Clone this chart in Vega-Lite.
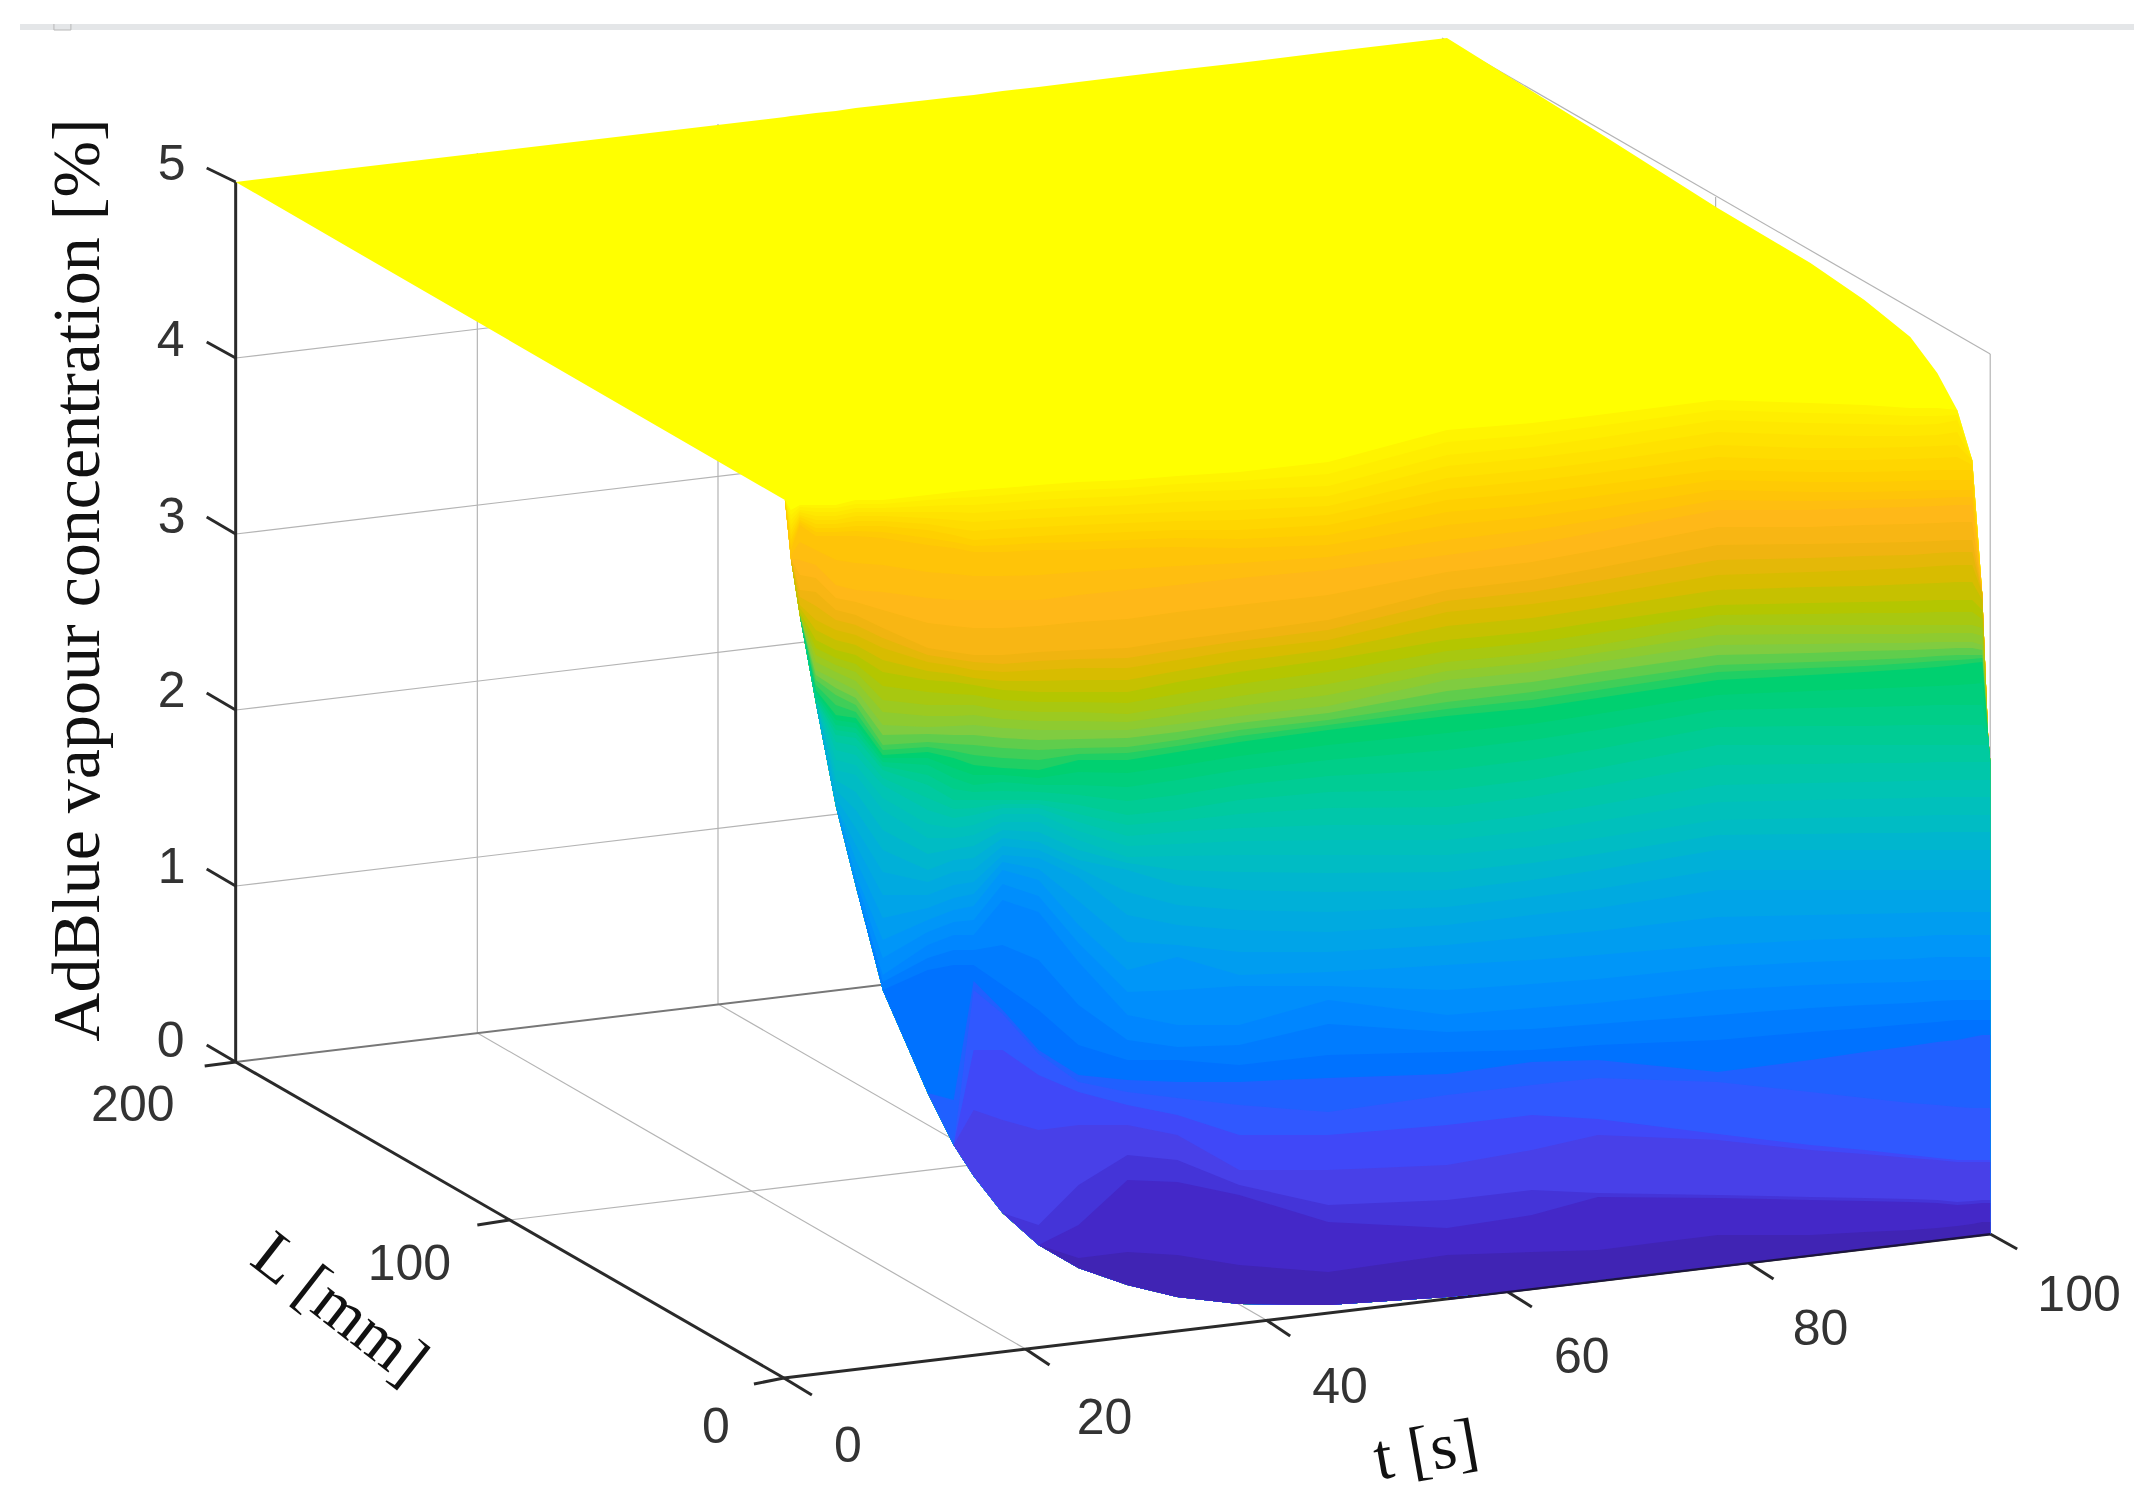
{
"$schema":"https://vega.github.io/schema/vega-lite/v6.json",
"width":2146,"height":1507,"padding":0,
"autosize":{"type":"fit","contains":"padding"},
"background":"white",
"config":{"view":{"stroke":null}},
"datasets":{
"surface":[
{"sx":236,"bottom":182,"c01":182,"c02":182,"c03":182,"c04":182,"c05":182,"c06":182,"c07":182,"c08":182,"c09":182,"c10":182,"c11":182,"c12":182,"c13":182,"c14":182,"c15":182,"c16":182,"c17":182,"c18":182,"c19":182,"c20":182,"c21":182,"c22":182,"c23":182,"c24":182,"c25":182,"c26":182,"c27":182,"c28":182,"c29":182,"c30":182,"c31":182,"c32":182,"c33":182,"c34":182,"c35":182,"c36":182,"c37":182,"c38":182,"c39":182,"c40":182,"c41":182,"c42":182,"c43":182,"c44":182,"c45":182,"c46":182,"c47":182,"c48":182,"c49":182,"c50":182,"c51":182},
{"sx":786,"bottom":500,"c01":117,"c02":500,"c03":500,"c04":500,"c05":500,"c06":500,"c07":500,"c08":500,"c09":500,"c10":500,"c11":500,"c12":500,"c13":500,"c14":500,"c15":500,"c16":500,"c17":500,"c18":500,"c19":500,"c20":500,"c21":500,"c22":500,"c23":500,"c24":500,"c25":500,"c26":500,"c27":500,"c28":500,"c29":500,"c30":500,"c31":500,"c32":500,"c33":500,"c34":500,"c35":500,"c36":500,"c37":500,"c38":500,"c39":500,"c40":500,"c41":500,"c42":500,"c43":500,"c44":500,"c45":500,"c46":500,"c47":500,"c48":500,"c49":500,"c50":500,"c51":500},
{"sx":792,"bottom":559,"c01":116,"c02":510,"c03":515,"c04":520,"c05":525,"c06":530,"c07":535,"c08":540,"c09":545,"c10":550,"c11":555,"c12":559,"c13":559,"c14":559,"c15":559,"c16":559,"c17":559,"c18":559,"c19":559,"c20":559,"c21":559,"c22":559,"c23":559,"c24":559,"c25":559,"c26":559,"c27":559,"c28":559,"c29":559,"c30":559,"c31":559,"c32":559,"c33":559,"c34":559,"c35":559,"c36":559,"c37":559,"c38":559,"c39":559,"c40":559,"c41":559,"c42":559,"c43":559,"c44":559,"c45":559,"c46":559,"c47":559,"c48":559,"c49":559,"c50":559,"c51":559},
{"sx":801,"bottom":616,"c01":115,"c02":505,"c03":507,"c04":510,"c05":512,"c06":515,"c07":517,"c08":520,"c09":522,"c10":525,"c11":542,"c12":560,"c13":575,"c14":590,"c15":597,"c16":605,"c17":608,"c18":612,"c19":614,"c20":616,"c21":616,"c22":616,"c23":616,"c24":616,"c25":616,"c26":616,"c27":616,"c28":616,"c29":616,"c30":616,"c31":616,"c32":616,"c33":616,"c34":616,"c35":616,"c36":616,"c37":616,"c38":616,"c39":616,"c40":616,"c41":616,"c42":616,"c43":616,"c44":616,"c45":616,"c46":616,"c47":616,"c48":616,"c49":616,"c50":616,"c51":616},
{"sx":817,"bottom":703,"c01":113,"c02":505,"c03":508,"c04":512,"c05":516,"c06":520,"c07":524,"c08":528,"c09":532,"c10":536,"c11":550,"c12":565,"c13":578,"c14":592,"c15":606,"c16":620,"c17":630,"c18":640,"c19":648,"c20":655,"c21":662,"c22":670,"c23":675,"c24":680,"c25":685,"c26":690,"c27":692,"c28":695,"c29":698,"c30":700,"c31":702,"c32":703,"c33":703,"c34":703,"c35":703,"c36":703,"c37":703,"c38":703,"c39":703,"c40":703,"c41":703,"c42":703,"c43":703,"c44":703,"c45":703,"c46":703,"c47":703,"c48":703,"c49":703,"c50":703,"c51":703},
{"sx":837,"bottom":806,"c01":111,"c02":505,"c03":508,"c04":512,"c05":516,"c06":520,"c07":524,"c08":528,"c09":532,"c10":536,"c11":560,"c12":585,"c13":598,"c14":610,"c15":620,"c16":630,"c17":640,"c18":650,"c19":658,"c20":665,"c21":672,"c22":680,"c23":688,"c24":695,"c25":705,"c26":715,"c27":720,"c28":725,"c29":730,"c30":735,"c31":742,"c32":750,"c33":760,"c34":770,"c35":780,"c36":790,"c37":798,"c38":806,"c39":806,"c40":806,"c41":806,"c42":806,"c43":806,"c44":806,"c45":806,"c46":806,"c47":806,"c48":806,"c49":806,"c50":806,"c51":806},
{"sx":857,"bottom":886,"c01":108,"c02":500,"c03":504,"c04":508,"c05":512,"c06":516,"c07":521,"c08":526,"c09":531,"c10":536,"c11":563,"c12":590,"c13":602,"c14":615,"c15":625,"c16":635,"c17":645,"c18":655,"c19":664,"c20":672,"c21":681,"c22":690,"c23":698,"c24":705,"c25":712,"c26":718,"c27":723,"c28":728,"c29":733,"c30":738,"c31":746,"c32":755,"c33":765,"c34":775,"c35":792,"c36":810,"c37":828,"c38":845,"c39":860,"c40":875,"c41":880,"c42":886,"c43":886,"c44":886,"c45":886,"c46":886,"c47":886,"c48":886,"c49":886,"c50":886,"c51":886},
{"sx":884,"bottom":990,"c01":105,"c02":500,"c03":504,"c04":508,"c05":512,"c06":516,"c07":521,"c08":526,"c09":532,"c10":538,"c11":565,"c12":592,"c13":610,"c14":628,"c15":638,"c16":648,"c17":660,"c18":672,"c19":686,"c20":700,"c21":712,"c22":725,"c23":735,"c24":745,"c25":750,"c26":755,"c27":758,"c28":762,"c29":766,"c30":770,"c31":778,"c32":785,"c33":798,"c34":810,"c35":830,"c36":850,"c37":872,"c38":895,"c39":918,"c40":940,"c41":958,"c42":975,"c43":982,"c44":990,"c45":990,"c46":990,"c47":990,"c48":990,"c49":990,"c50":990,"c51":990},
{"sx":929,"bottom":1093,"c01":100,"c02":495,"c03":500,"c04":506,"c05":512,"c06":518,"c07":524,"c08":530,"c09":538,"c10":545,"c11":572,"c12":598,"c13":623,"c14":648,"c15":655,"c16":662,"c17":671,"c18":680,"c19":692,"c20":705,"c21":716,"c22":727,"c23":734,"c24":742,"c25":747,"c26":752,"c27":758,"c28":765,"c29":775,"c30":785,"c31":798,"c32":810,"c33":824,"c34":838,"c35":854,"c36":870,"c37":882,"c38":895,"c39":908,"c40":920,"c41":932,"c42":945,"c43":958,"c44":970,"c45":1093,"c46":1093,"c47":1093,"c48":1093,"c49":1093,"c50":1093,"c51":1093},
{"sx":955,"bottom":1145,"c01":97,"c02":492,"c03":498,"c04":505,"c05":512,"c06":520,"c07":528,"c08":535,"c09":542,"c10":548,"c11":574,"c12":600,"c13":626,"c14":652,"c15":659,"c16":666,"c17":674,"c18":682,"c19":694,"c20":705,"c21":716,"c22":726,"c23":735,"c24":744,"c25":751,"c26":758,"c27":768,"c28":778,"c29":789,"c30":800,"c31":809,"c32":818,"c33":828,"c34":838,"c35":849,"c36":860,"c37":872,"c38":885,"c39":898,"c40":910,"c41":922,"c42":935,"c43":950,"c44":965,"c45":1100,"c46":1145,"c47":1145,"c48":1145,"c49":1145,"c50":1145,"c51":1145},
{"sx":975,"bottom":1176,"c01":95,"c02":490,"c03":497,"c04":505,"c05":513,"c06":522,"c07":531,"c08":540,"c09":546,"c10":552,"c11":576,"c12":600,"c13":628,"c14":655,"c15":662,"c16":670,"c17":678,"c18":685,"c19":695,"c20":705,"c21":715,"c22":725,"c23":735,"c24":745,"c25":755,"c26":765,"c27":775,"c28":785,"c29":792,"c30":800,"c31":808,"c32":815,"c33":825,"c34":835,"c35":846,"c36":858,"c37":870,"c38":882,"c39":894,"c40":906,"c41":920,"c42":935,"c43":950,"c44":965,"c45":981,"c46":990,"c47":1050,"c48":1110,"c49":1176,"c50":1176,"c51":1176},
{"sx":1004,"bottom":1213,"c01":91,"c02":488,"c03":495,"c04":503,"c05":511,"c06":520,"c07":529,"c08":538,"c09":545,"c10":552,"c11":576,"c12":600,"c13":628,"c14":655,"c15":664,"c16":672,"c17":681,"c18":690,"c19":700,"c20":710,"c21":719,"c22":728,"c23":738,"c24":748,"c25":758,"c26":768,"c27":775,"c28":782,"c29":791,"c30":800,"c31":804,"c32":808,"c33":814,"c34":822,"c35":830,"c36":838,"c37":846,"c38":855,"c39":862,"c40":870,"c41":884,"c42":900,"c43":945,"c44":985,"c45":1010,"c46":1014,"c47":1050,"c48":1120,"c49":1213,"c50":1213,"c51":1213},
{"sx":1040,"bottom":1245,"c01":87,"c02":485,"c03":492,"c04":500,"c05":509,"c06":518,"c07":527,"c08":536,"c09":543,"c10":550,"c11":575,"c12":600,"c13":626,"c14":652,"c15":661,"c16":670,"c17":681,"c18":692,"c19":702,"c20":712,"c21":721,"c22":730,"c23":740,"c24":750,"c25":760,"c26":770,"c27":778,"c28":785,"c29":792,"c30":800,"c31":804,"c32":808,"c33":814,"c34":822,"c35":832,"c36":842,"c37":850,"c38":858,"c39":869,"c40":880,"c41":896,"c42":912,"c43":960,"c44":1010,"c45":1050,"c46":1054,"c47":1075,"c48":1130,"c49":1225,"c50":1245,"c51":1245},
{"sx":1080,"bottom":1268,"c01":82,"c02":482,"c03":490,"c04":498,"c05":507,"c06":516,"c07":525,"c08":534,"c09":542,"c10":550,"c11":572,"c12":595,"c13":622,"c14":650,"c15":659,"c16":668,"c17":680,"c18":692,"c19":702,"c20":712,"c21":721,"c22":730,"c23":739,"c24":748,"c25":754,"c26":760,"c27":772,"c28":785,"c29":795,"c30":805,"c31":814,"c32":822,"c33":831,"c34":840,"c35":850,"c36":860,"c37":868,"c38":877,"c39":901,"c40":925,"c41":943,"c42":962,"c43":1005,"c44":1045,"c45":1075,"c46":1082,"c47":1092,"c48":1125,"c49":1185,"c50":1225,"c51":1258},
{"sx":1129,"bottom":1285,"c01":76,"c02":480,"c03":488,"c04":496,"c05":505,"c06":514,"c07":523,"c08":532,"c09":540,"c10":548,"c11":569,"c12":590,"c13":619,"c14":648,"c15":658,"c16":668,"c17":680,"c18":692,"c19":703,"c20":714,"c21":722,"c22":730,"c23":738,"c24":747,"c25":753,"c26":760,"c27":773,"c28":787,"c29":801,"c30":815,"c31":825,"c32":836,"c33":846,"c34":857,"c35":863,"c36":870,"c37":892,"c38":915,"c39":942,"c40":970,"c41":992,"c42":1015,"c43":1040,"c44":1060,"c45":1080,"c46":1092,"c47":1105,"c48":1125,"c49":1155,"c50":1180,"c51":1252},
{"sx":1179,"bottom":1297,"c01":70,"c02":476,"c03":484,"c04":492,"c05":502,"c06":512,"c07":521,"c08":530,"c09":538,"c10":547,"c11":566,"c12":585,"c13":612,"c14":640,"c15":650,"c16":660,"c17":671,"c18":682,"c19":694,"c20":706,"c21":715,"c22":724,"c23":732,"c24":740,"c25":746,"c26":752,"c27":766,"c28":780,"c29":795,"c30":810,"c31":821,"c32":832,"c33":844,"c34":856,"c35":870,"c36":885,"c37":905,"c38":925,"c39":945,"c40":957,"c41":990,"c42":1025,"c43":1047,"c44":1060,"c45":1082,"c46":1098,"c47":1115,"c48":1135,"c49":1160,"c50":1182,"c51":1255},
{"sx":1241,"bottom":1304,"c01":63,"c02":472,"c03":481,"c04":490,"c05":500,"c06":510,"c07":520,"c08":530,"c09":539,"c10":548,"c11":563,"c12":578,"c13":605,"c14":632,"c15":641,"c16":650,"c17":661,"c18":672,"c19":684,"c20":696,"c21":706,"c22":716,"c23":723,"c24":730,"c25":736,"c26":742,"c27":756,"c28":770,"c29":785,"c30":800,"c31":814,"c32":828,"c33":841,"c34":855,"c35":872,"c36":890,"c37":910,"c38":930,"c39":952,"c40":975,"c41":986,"c42":1025,"c43":1045,"c44":1065,"c45":1082,"c46":1105,"c47":1135,"c48":1170,"c49":1185,"c50":1195,"c51":1265},
{"sx":1330,"bottom":1305,"c01":52,"c02":462,"c03":474,"c04":486,"c05":496,"c06":506,"c07":515,"c08":525,"c09":535,"c10":545,"c11":557,"c12":570,"c13":595,"c14":620,"c15":630,"c16":640,"c17":650,"c18":660,"c19":672,"c20":684,"c21":695,"c22":706,"c23":713,"c24":720,"c25":725,"c26":730,"c27":745,"c28":760,"c29":776,"c30":792,"c31":808,"c32":825,"c33":840,"c34":855,"c35":873,"c36":892,"c37":912,"c38":932,"c39":952,"c40":972,"c41":986,"c42":1000,"c43":1024,"c44":1055,"c45":1078,"c46":1112,"c47":1135,"c48":1170,"c49":1205,"c50":1222,"c51":1272},
{"sx":1449,"bottom":1297,"c01":38,"c02":430,"c03":442,"c04":455,"c05":466,"c06":478,"c07":489,"c08":500,"c09":512,"c10":525,"c11":540,"c12":555,"c13":572,"c14":590,"c15":601,"c16":612,"c17":626,"c18":640,"c19":651,"c20":662,"c21":671,"c22":680,"c23":691,"c24":702,"c25":709,"c26":716,"c27":733,"c28":750,"c29":770,"c30":790,"c31":807,"c32":825,"c33":840,"c34":855,"c35":872,"c36":890,"c37":907,"c38":925,"c39":945,"c40":965,"c41":990,"c42":1015,"c43":1032,"c44":1052,"c45":1074,"c46":1095,"c47":1125,"c48":1165,"c49":1200,"c50":1228,"c51":1255},
{"sx":1534,"bottom":1289,"c01":91,"c02":423,"c03":435,"c04":447,"c05":458,"c06":470,"c07":481,"c08":493,"c09":505,"c10":517,"c11":530,"c12":544,"c13":562,"c14":580,"c15":592,"c16":604,"c17":618,"c18":632,"c19":643,"c20":654,"c21":663,"c22":672,"c23":682,"c24":692,"c25":700,"c26":708,"c27":724,"c28":740,"c29":760,"c30":780,"c31":797,"c32":815,"c33":831,"c34":847,"c35":863,"c36":880,"c37":897,"c38":915,"c39":937,"c40":960,"c41":984,"c42":1008,"c43":1029,"c44":1050,"c45":1062,"c46":1085,"c47":1115,"c48":1150,"c49":1190,"c50":1215,"c51":1252},
{"sx":1600,"bottom":1280,"c01":132,"c02":415,"c03":426,"c04":438,"c05":450,"c06":462,"c07":473,"c08":485,"c09":496,"c10":508,"c11":520,"c12":532,"c13":550,"c14":568,"c15":581,"c16":595,"c17":608,"c18":622,"c19":633,"c20":645,"c21":653,"c22":662,"c23":672,"c24":682,"c25":690,"c26":698,"c27":714,"c28":730,"c29":749,"c30":768,"c31":786,"c32":805,"c33":821,"c34":838,"c35":854,"c36":870,"c37":889,"c38":908,"c39":931,"c40":955,"c41":979,"c42":1003,"c43":1024,"c44":1045,"c45":1060,"c46":1078,"c47":1119,"c48":1135,"c49":1193,"c50":1197,"c51":1250},
{"sx":1720,"bottom":1266,"c01":208,"c02":400,"c03":410,"c04":420,"c05":432,"c06":445,"c07":457,"c08":470,"c09":480,"c10":490,"c11":500,"c12":510,"c13":527,"c14":545,"c15":560,"c16":575,"c17":590,"c18":605,"c19":615,"c20":625,"c21":635,"c22":645,"c23":655,"c24":665,"c25":672,"c26":680,"c27":695,"c28":710,"c29":727,"c30":745,"c31":765,"c32":785,"c33":802,"c34":820,"c35":835,"c36":850,"c37":870,"c38":890,"c39":917,"c40":945,"c41":967,"c42":990,"c43":1015,"c44":1040,"c45":1072,"c46":1082,"c47":1134,"c48":1140,"c49":1195,"c50":1198,"c51":1235},
{"sx":1813,"bottom":1255,"c01":263,"c02":403,"c03":413,"c04":423,"c05":435,"c06":448,"c07":460,"c08":472,"c09":482,"c10":492,"c11":501,"c12":510,"c13":527,"c14":544,"c15":558,"c16":572,"c17":587,"c18":603,"c19":614,"c20":625,"c21":634,"c22":644,"c23":653,"c24":662,"c25":668,"c26":675,"c27":691,"c28":708,"c29":726,"c30":745,"c31":764,"c32":783,"c33":800,"c34":818,"c35":834,"c36":850,"c37":870,"c38":890,"c39":915,"c40":940,"c41":962,"c42":985,"c43":1008,"c44":1032,"c45":1060,"c46":1092,"c47":1145,"c48":1150,"c49":1197,"c50":1200,"c51":1235},
{"sx":1867,"bottom":1249,"c01":300,"c02":405,"c03":414,"c04":424,"c05":436,"c06":448,"c07":460,"c08":472,"c09":482,"c10":492,"c11":500,"c12":508,"c13":525,"c14":543,"c15":556,"c16":570,"c17":586,"c18":602,"c19":613,"c20":625,"c21":634,"c22":643,"c23":651,"c24":660,"c25":666,"c26":672,"c27":689,"c28":707,"c29":726,"c30":745,"c31":763,"c32":782,"c33":799,"c34":817,"c35":833,"c36":850,"c37":870,"c38":890,"c39":914,"c40":938,"c41":960,"c42":983,"c43":1005,"c44":1028,"c45":1052,"c46":1098,"c47":1150,"c48":1154,"c49":1198,"c50":1201,"c51":1232},
{"sx":1913,"bottom":1243,"c01":337,"c02":408,"c03":416,"c04":425,"c05":436,"c06":447,"c07":459,"c08":471,"c09":481,"c10":491,"c11":499,"c12":507,"c13":524,"c14":542,"c15":555,"c16":568,"c17":584,"c18":601,"c19":613,"c20":625,"c21":634,"c22":643,"c23":650,"c24":658,"c25":663,"c26":669,"c27":687,"c28":706,"c29":725,"c30":745,"c31":763,"c32":781,"c33":798,"c34":816,"c35":833,"c36":850,"c37":870,"c38":890,"c39":913,"c40":937,"c41":959,"c42":982,"c43":1003,"c44":1024,"c45":1046,"c46":1103,"c47":1155,"c48":1158,"c49":1199,"c50":1202,"c51":1230},
{"sx":1940,"bottom":1240,"c01":373,"c02":408,"c03":416,"c04":424,"c05":435,"c06":446,"c07":458,"c08":470,"c09":480,"c10":490,"c11":498,"c12":506,"c13":523,"c14":541,"c15":553,"c16":566,"c17":583,"c18":600,"c19":612,"c20":625,"c21":633,"c22":642,"c23":649,"c24":656,"c25":661,"c26":667,"c27":686,"c28":705,"c29":725,"c30":745,"c31":762,"c32":780,"c33":797,"c34":815,"c35":832,"c36":850,"c37":870,"c38":890,"c39":912,"c40":935,"c41":957,"c42":980,"c43":1001,"c44":1022,"c45":1042,"c46":1105,"c47":1158,"c48":1160,"c49":1200,"c50":1203,"c51":1228},
{"sx":1960,"bottom":1238,"c01":410,"c02":410,"c03":415,"c04":420,"c05":432,"c06":445,"c07":457,"c08":470,"c09":480,"c10":490,"c11":497,"c12":505,"c13":522,"c14":540,"c15":552,"c16":565,"c17":582,"c18":600,"c19":612,"c20":625,"c21":633,"c22":642,"c23":648,"c24":655,"c25":660,"c26":665,"c27":685,"c28":705,"c29":725,"c30":745,"c31":762,"c32":780,"c33":797,"c34":815,"c35":832,"c36":850,"c37":870,"c38":890,"c39":912,"c40":935,"c41":957,"c42":980,"c43":1000,"c44":1020,"c45":1040,"c46":1107,"c47":1160,"c48":1162,"c49":1202,"c50":1205,"c51":1226},
{"sx":1975,"bottom":1236,"c01":460,"c02":460,"c03":460,"c04":460,"c05":460,"c06":460,"c07":465,"c08":470,"c09":480,"c10":490,"c11":497,"c12":505,"c13":522,"c14":540,"c15":552,"c16":565,"c17":582,"c18":600,"c19":612,"c20":625,"c21":633,"c22":642,"c23":648,"c24":655,"c25":659,"c26":663,"c27":684,"c28":705,"c29":725,"c30":745,"c31":762,"c32":780,"c33":797,"c34":815,"c35":832,"c36":850,"c37":870,"c38":890,"c39":912,"c40":935,"c41":957,"c42":980,"c43":1000,"c44":1020,"c45":1037,"c46":1108,"c47":1160,"c48":1162,"c49":1201,"c50":1204,"c51":1224},
{"sx":1985,"bottom":1235,"c01":593,"c02":593,"c03":593,"c04":593,"c05":593,"c06":593,"c07":593,"c08":593,"c09":593,"c10":593,"c11":593,"c12":593,"c13":593,"c14":593,"c15":593,"c16":593,"c17":600,"c18":610,"c19":619,"c20":628,"c21":636,"c22":645,"c23":650,"c24":655,"c25":658,"c26":662,"c27":683,"c28":705,"c29":725,"c30":745,"c31":762,"c32":780,"c33":797,"c34":815,"c35":832,"c36":850,"c37":870,"c38":890,"c39":912,"c40":935,"c41":957,"c42":980,"c43":1000,"c44":1020,"c45":1035,"c46":1108,"c47":1160,"c48":1162,"c49":1200,"c50":1203,"c51":1222},
{"sx":1991,"bottom":1234,"c01":737,"c02":737,"c03":737,"c04":737,"c05":737,"c06":737,"c07":737,"c08":737,"c09":737,"c10":737,"c11":737,"c12":737,"c13":737,"c14":737,"c15":737,"c16":737,"c17":737,"c18":737,"c19":737,"c20":737,"c21":737,"c22":737,"c23":737,"c24":737,"c25":737,"c26":737,"c27":737,"c28":737,"c29":737,"c30":745,"c31":762,"c32":780,"c33":797,"c34":815,"c35":832,"c36":850,"c37":870,"c38":890,"c39":912,"c40":935,"c41":957,"c42":980,"c43":1000,"c44":1020,"c45":1035,"c46":1108,"c47":1160,"c48":1162,"c49":1200,"c50":1203,"c51":1222},
{"sx":1993,"bottom":1234,"c01":760,"c02":760,"c03":760,"c04":760,"c05":760,"c06":760,"c07":760,"c08":760,"c09":760,"c10":760,"c11":760,"c12":760,"c13":760,"c14":760,"c15":760,"c16":760,"c17":760,"c18":760,"c19":760,"c20":760,"c21":760,"c22":760,"c23":760,"c24":760,"c25":760,"c26":760,"c27":760,"c28":760,"c29":760,"c30":760,"c31":762,"c32":780,"c33":797,"c34":815,"c35":832,"c36":850,"c37":870,"c38":890,"c39":912,"c40":935,"c41":957,"c42":980,"c43":1000,"c44":1020,"c45":1035,"c46":1108,"c47":1160,"c48":1162,"c49":1200,"c50":1203,"c51":1222}
],
"grid":[
{"seg":"z1","sx":236,"sy":886},{"seg":"z1","sx":1444,"sy":742},
{"seg":"z2","sx":236,"sy":710},{"seg":"z2","sx":1444,"sy":566},
{"seg":"z3","sx":236,"sy":534},{"seg":"z3","sx":1444,"sy":390},
{"seg":"z4","sx":236,"sy":358},{"seg":"z4","sx":1444,"sy":214},
{"seg":"t20","sx":478,"sy":1033},{"seg":"t20","sx":478,"sy":153},
{"seg":"t40","sx":719,"sy":1004},{"seg":"t40","sx":719,"sy":124},
{"seg":"top100","sx":1444,"sy":38},{"seg":"top100","sx":1993,"sy":354},
{"seg":"edge100","sx":1993,"sy":354},{"seg":"edge100","sx":1993,"sy":1234},
{"seg":"l100wall","sx":1718,"sy":197},{"seg":"l100wall","sx":1718,"sy":1076},
{"seg":"l100","sx":510,"sy":1220},{"seg":"l100","sx":1718,"sy":1076},
{"seg":"f20","sx":1027,"sy":1349},{"seg":"f20","sx":478,"sy":1033},
{"seg":"f40","sx":1268,"sy":1320},{"seg":"f40","sx":719,"sy":1004}
],
"axes":[
{"seg":"z","sx":236,"sy":182},{"seg":"z","sx":236,"sy":1062},
{"seg":"L","sx":236,"sy":1062},{"seg":"L","sx":785,"sy":1378},
{"seg":"t","sx":785,"sy":1378},{"seg":"t","sx":1993,"sy":1234},
{"seg":"tz0","sx":236,"sy":1062},{"seg":"tz0","sx":207,"sy":1045},
{"seg":"tz1","sx":236,"sy":886},{"seg":"tz1","sx":207,"sy":869},
{"seg":"tz2","sx":236,"sy":710},{"seg":"tz2","sx":207,"sy":693},
{"seg":"tz3","sx":236,"sy":534},{"seg":"tz3","sx":207,"sy":517},
{"seg":"tz4","sx":236,"sy":358},{"seg":"tz4","sx":207,"sy":342},
{"seg":"tz5","sx":236,"sy":182},{"seg":"tz5","sx":207,"sy":168},
{"seg":"tL200","sx":236,"sy":1062},{"seg":"tL200","sx":205,"sy":1066},
{"seg":"tL100","sx":510,"sy":1220},{"seg":"tL100","sx":478,"sy":1225},
{"seg":"tL0","sx":785,"sy":1378},{"seg":"tL0","sx":755,"sy":1384},
{"seg":"tt0","sx":785,"sy":1378},{"seg":"tt0","sx":813,"sy":1395},
{"seg":"tt20","sx":1027,"sy":1349},{"seg":"tt20","sx":1051,"sy":1365},
{"seg":"tt40","sx":1268,"sy":1320},{"seg":"tt40","sx":1292,"sy":1336},
{"seg":"tt60","sx":1510,"sy":1292},{"seg":"tt60","sx":1534,"sy":1307},
{"seg":"tt80","sx":1751,"sy":1263},{"seg":"tt80","sx":1776,"sy":1279},
{"seg":"tt100","sx":1993,"sy":1234},{"seg":"tt100","sx":2020,"sy":1249}
],
"ticklabels":[
{"label":"0","sx":171,"sy":1042},{"label":"1","sx":172,"sy":868},{"label":"2","sx":172,"sy":692},
{"label":"3","sx":172,"sy":518},{"label":"4","sx":171,"sy":341},{"label":"5","sx":172,"sy":165},
{"label":"200","sx":133,"sy":1106},{"label":"100","sx":410,"sy":1265},{"label":"0","sx":717,"sy":1428},
{"label":"0","sx":849,"sy":1447},{"label":"20","sx":1106,"sy":1419},{"label":"40","sx":1342,"sy":1388},
{"label":"60","sx":1584,"sy":1358},{"label":"80","sx":1823,"sy":1330},{"label":"100","sx":2082,"sy":1296}
]
},
"encoding":{
"x":{"field":"sx","type":"quantitative","axis":null,"scale":{"domain":[0,2146],"nice":false,"zero":false}},
"y":{"field":"sy","type":"quantitative","axis":null,"stack":null,"scale":{"domain":[1507,0],"nice":false,"zero":false}}
},
"layer":[
{"data":{"values":[{"seg":"strip","sx":20,"sy":27},{"seg":"strip","sx":2137,"sy":27}]},"mark":{"type":"line","color":"#e4e6e8","strokeWidth":6},"encoding":{"detail":{"field":"seg"}}},
{"data":{"values":[{"seg":"notch","sx":54,"sy":24},{"seg":"notch","sx":54,"sy":30},{"seg":"notch","sx":71,"sy":30},{"seg":"notch","sx":71,"sy":24}]},"mark":{"type":"line","color":"#b8b8b8","strokeWidth":1},"encoding":{"detail":{"field":"seg"}}},
{"data":{"name":"grid"},"mark":{"type":"line","color":"#b4b4b4","strokeWidth":1.2},"encoding":{"detail":{"field":"seg"}}},
{"data":{"values":[{"seg":"back","sx":236,"sy":1062},{"seg":"back","sx":1444,"sy":918}]},"mark":{"type":"line","color":"#777777","strokeWidth":2},"encoding":{"detail":{"field":"seg"}}},
{"data":{"name":"axes"},"mark":{"type":"line","color":"#2a2a2a","strokeWidth":3},"encoding":{"detail":{"field":"seg"}}},
{"data":{"name":"surface"},
"transform":[{"fold":["c01","c02","c03","c04","c05","c06","c07","c08","c09","c10","c11","c12","c13","c14","c15","c16","c17","c18","c19","c20","c21","c22","c23","c24","c25","c26","c27","c28","c29","c30","c31","c32","c33","c34","c35","c36","c37","c38","c39","c40","c41","c42","c43","c44","c45","c46","c47","c48","c49","c50","c51"],"as":["level","sy"]}],
"mark":{"type":"area","orient":"vertical","interpolate":"linear","strokeWidth":0},
"encoding":{"y2":{"field":"bottom"},
"color":{"field":"level","type":"nominal","legend":null,"scale":{
"domain":["c01","c02","c03","c04","c05","c06","c07","c08","c09","c10","c11","c12","c13","c14","c15","c16","c17","c18","c19","c20","c21","c22","c23","c24","c25","c26","c27","c28","c29","c30","c31","c32","c33","c34","c35","c36","c37","c38","c39","c40","c41","c42","c43","c44","c45","c46","c47","c48","c49","c50","c51"],
"range":["#FFFF00","#FFF400","#FFEE00","#FFE800","#FFE200","#FFDC00","#FFD600","#FFD000","#FFCA04","#FFC408","#FFBE10","#FFB818","#F8B614","#F0B410","#E4B808","#D8BC00","#C6C100","#B4C600","#A8C810","#9CCA20","#8ECB30","#80CC40","#60CD4C","#40CE58","#20CF64","#00D070","#00CF7C","#00CE88","#00CC94","#00CAA0","#00C7AA","#00C4B4","#00C0BC","#00BCC4","#00B6CE","#00B0D8","#00AAE0","#00A4E8","#009DF0","#0096F8","#008EFC","#0086FF","#007CFF","#0072FF","#2060FF","#3058FF","#4048F8","#4840E8","#4434D8","#4428C8","#4024B4"]}}}},
{"data":{"values":[{"seg":"t","sx":1450,"sy":1299},{"seg":"t","sx":1993,"sy":1234}]},"mark":{"type":"line","color":"#1c1440","strokeWidth":2},"encoding":{"detail":{"field":"seg"}}},
{"data":{"name":"ticklabels"},"mark":{"type":"text","font":"Liberation Sans","fontSize":50,"color":"#333333","align":"center","baseline":"middle"},"encoding":{"text":{"field":"label"}}},
{"data":{"values":[{"label":"AdBlue vapour concentration [%]","sx":99,"sy":580}]},"mark":{"type":"text","font":"Liberation Serif","fontSize":68,"color":"#111111","angle":270,"align":"center","baseline":"alphabetic"},"encoding":{"text":{"field":"label"}}},
{"data":{"values":[{"label":"L [mm]","sx":340,"sy":1309}]},"mark":{"type":"text","font":"Liberation Serif","fontSize":66,"color":"#111111","angle":38,"align":"center","baseline":"middle"},"encoding":{"text":{"field":"label"}}},
{"data":{"values":[{"label":"t [s]","sx":1428,"sy":1451}]},"mark":{"type":"text","font":"Liberation Serif","fontSize":66,"color":"#111111","angle":350,"align":"center","baseline":"middle"},"encoding":{"text":{"field":"label"}}}
]
}
